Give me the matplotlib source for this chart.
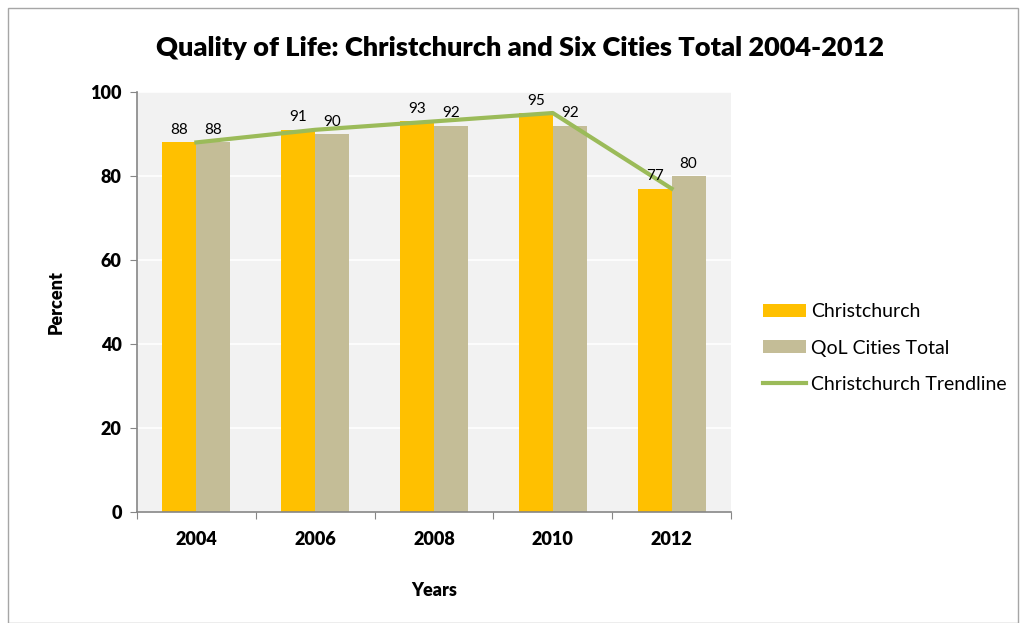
import matplotlib.pyplot as plt
import numpy as np
from matplotlib.patches import Rectangle

plt.rcParams['font.family'] = ['Lato', 'DejaVu Sans']

years = ['2004', '2006', '2008', '2010', '2012']
christchurch = [88, 91, 93, 95, 77]
qol_total = [88, 90, 92, 92, 80]

fig = plt.figure(figsize=(10.23, 6.23), dpi=100)
ax = fig.add_axes([137/1023, 1-512/623, (731-137)/1023, (512-92)/623])
ax.set_facecolor('#f2f2f2')

x = np.arange(len(years))
w = 0.286
b1 = ax.bar(x - w/2, christchurch, w, color='#ffc000', label='Christchurch', zorder=2)
b2 = ax.bar(x + w/2, qol_total, w, color='#c4bd97', label='QoL Cities Total', zorder=2)
trend, = ax.plot(x, christchurch, color='#9bbb59', lw=3, label='Christchurch Trendline', zorder=3)

for rect, v in zip(b1, christchurch):
    ax.text(rect.get_x() + rect.get_width()/2, v + 1.3, str(v), ha='center', va='bottom', fontsize=11)
for rect, v in zip(b2, qol_total):
    ax.text(rect.get_x() + rect.get_width()/2, v + 1.3, str(v), ha='center', va='bottom', fontsize=11)

ax.set_xlim(-0.5, len(years) - 0.5)
ax.set_ylim(0, 100)
ax.set_yticks(range(0, 101, 20))
ax.set_yticklabels([str(t) for t in range(0, 101, 20)], fontsize=13, fontweight='heavy')
ax.set_xticks(np.arange(-0.5, len(years), 1))
ax.set_xticklabels([])
ax.set_xticks(x, minor=True)
ax.set_xticklabels(years, minor=True, fontsize=13, fontweight='heavy')
ax.tick_params(axis='x', which='minor', length=0, pad=14)
ax.tick_params(axis='x', which='major', length=5, color='#868686')
ax.tick_params(axis='y', length=5, color='#868686', pad=6)
ax.grid(axis='y', color='white', lw=1.2, zorder=1)
ax.set_axisbelow(True)
for s in ['top', 'right']:
    ax.spines[s].set_visible(False)
for s in ['left', 'bottom']:
    ax.spines[s].set_color('#868686')
    ax.spines[s].set_linewidth(1.2)

ax.set_ylabel('Percent', fontsize=13, fontweight='heavy', labelpad=18)
ax.set_xlabel('Years', fontsize=13, fontweight='heavy', labelpad=24)
fig.text(520/1023, 1-48/623, 'Quality of Life: Christchurch and Six Cities Total 2004-2012',
         ha='center', va='center', fontsize=19.5, fontweight='heavy')

ax.legend([b1, b2, trend], ['Christchurch', 'QoL Cities Total', 'Christchurch Trendline'],
          loc='center left', bbox_to_anchor=(1.054, 0.39), frameon=False, fontsize=14,
          borderpad=0, borderaxespad=0, labelspacing=1.0, handlelength=2.2,
          handleheight=0.65, handletextpad=0.25)

fig.add_artist(Rectangle((8/1023, 0), 1010/1023, 1-8/623, transform=fig.transFigure,
                         fill=False, edgecolor='#a6a6a6', lw=1))

fig.savefig('out.png', dpi=100)
